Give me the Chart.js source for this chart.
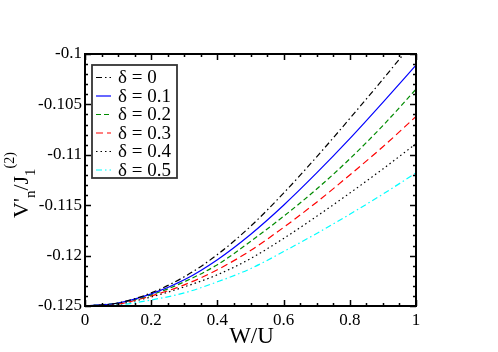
<!DOCTYPE html>
<html>
<head>
<meta charset="utf-8">
<script src="https://cdn.jsdelivr.net/npm/chart.js@4.4.0/dist/chart.umd.min.js"></script>
<style>
    html, body { margin: 0; padding: 0; background: #fff; }
    #wrap { width: 498px; height: 352px; }
</style>
</head>
<body>
<div id="wrap"><canvas id="grafico" width="498" height="352"></canvas></div>
<script>
// valores
const wOverU = [0, 0.1, 0.2, 0.3, 0.4, 0.5, 0.6, 0.7, 0.8, 0.9, 1.0];
const delta00 = [-0.1250, -0.1247, -0.1237, -0.1221, -0.1199, -0.1171, -0.1138, -0.1102, -0.1064, -0.1025, -0.0985];
const delta01 = [-0.1250, -0.1247, -0.1238, -0.1224, -0.1204, -0.1179, -0.1150, -0.1118, -0.1084, -0.1048, -0.1011];
const delta02 = [-0.1250, -0.1247, -0.1239, -0.1226, -0.1209, -0.1186, -0.1161, -0.1134, -0.1104, -0.1071, -0.1035];
const delta03 = [-0.1250, -0.1248, -0.1240, -0.1229, -0.1214, -0.1195, -0.1172, -0.1147, -0.1120, -0.1092, -0.1062];
const delta04 = [-0.1250, -0.1248, -0.1241, -0.1231, -0.1219, -0.1203, -0.1183, -0.1161, -0.1138, -0.1114, -0.1089];
const delta05 = [-0.1250, -0.1249, -0.1244, -0.1237, -0.1226, -0.1213, -0.1196, -0.1178, -0.1159, -0.1139, -0.1118];
const seriesLabels = ['δ = 0', 'δ = 0.1', 'δ = 0.2', 'δ = 0.3', 'δ = 0.4', 'δ = 0.5'];
const xTickLabels = ['0', '0.2', '0.4', '0.6', '0.8', '1'];
const yTickLabels = ['-0.125', '-0.12', '-0.115', '-0.11', '-0.105', '-0.1'];

const FONT = '"Liberation Serif", "DejaVu Serif", serif';

function pontos(vals) {
    return wOverU.map((x, i) => ({ x: x, y: vals[i] }));
}

function serie(label, vals, cor, dash) {
    return {
        label: label,
        data: pontos(vals),
        borderColor: cor,
        backgroundColor: cor,
        borderWidth: 1.2,
        borderDash: dash,
        pointRadius: 0,
        fill: false,
        cubicInterpolationMode: 'monotone'
    };
}

// moldura, marcas de escala, legenda e títulos estilo xmgrace
const molduraPlugin = {
    id: 'moldura',
    afterDatasetsDraw(chart) {
        const ctx = chart.ctx;
        const a = chart.chartArea;
        const xs = chart.scales.x;
        const ys = chart.scales.y;
        ctx.save();
        ctx.strokeStyle = '#000';
        ctx.lineWidth = 1.5;

        // marcas x
        for (let k = 0; k <= 20; k++) {
            const v = k * 0.05;
            const px = Math.round(xs.getPixelForValue(v)) + 0.5;
            const len = (k % 4 === 0) ? 6 : 3;
            ctx.beginPath();
            ctx.moveTo(px, a.bottom); ctx.lineTo(px, a.bottom - len);
            ctx.moveTo(px, a.top); ctx.lineTo(px, a.top + len);
            ctx.stroke();
        }
        // marcas y
        for (let k = 0; k <= 25; k++) {
            const v = -0.125 + k * 0.001;
            const py = Math.round(ys.getPixelForValue(v)) + 0.5;
            const len = (k % 5 === 0) ? 6 : 3;
            ctx.beginPath();
            ctx.moveTo(a.left, py); ctx.lineTo(a.left + len, py);
            ctx.moveTo(a.right, py); ctx.lineTo(a.right - len, py);
            ctx.stroke();
        }
        ctx.lineWidth = 2;
        ctx.strokeRect(a.left, a.top, a.right - a.left, a.bottom - a.top);

        // legenda
        const lx = 92, ly = 65, lw = 85, lh = 113;
        ctx.fillStyle = '#fff';
        ctx.fillRect(lx, ly, lw, lh);
        ctx.strokeStyle = '#333';
        ctx.lineWidth = 1.8;
        ctx.strokeRect(lx, ly, lw, lh);
        ctx.font = '19px ' + FONT;
        ctx.textBaseline = 'middle';
        ctx.textAlign = 'left';
        chart.data.datasets.forEach((ds, i) => {
            const cy = 77.5 + i * 18.5;
            ctx.strokeStyle = ds.borderColor;
            ctx.lineWidth = 1.2;
            ctx.setLineDash(ds.borderDash || []);
            ctx.beginPath();
            ctx.moveTo(96, cy); ctx.lineTo(111, cy);
            ctx.stroke();
            ctx.setLineDash([]);
            ctx.fillStyle = '#000';
            ctx.fillText(ds.label, 118, cy + 1);
        });

        // título do eixo x
        ctx.fillStyle = '#000';
        ctx.font = '23px ' + FONT;
        ctx.textAlign = 'center';
        ctx.textBaseline = 'alphabetic';
        ctx.fillText('W/U', (a.left + a.right) / 2 + 1, 343);

        // título do eixo y: V'_n / J_1^(2)
        const partes = [
            { t: "V'", size: 22, dy: 0 },
            { t: 'n', size: 15, dy: 7 },
            { t: '/J', size: 22, dy: 0 },
            { t: '1', size: 15, dy: 7 },
            { t: '(2)', size: 14, dy: -14 }
        ];
        let total = 0;
        partes.forEach(p => {
            ctx.font = p.size + 'px ' + FONT;
            p.w = ctx.measureText(p.t).width;
            total += p.w;
        });
        ctx.translate(28, 185);
        ctx.rotate(-Math.PI / 2);
        ctx.textAlign = 'left';
        let cx = -total / 2;
        partes.forEach(p => {
            ctx.font = p.size + 'px ' + FONT;
            ctx.fillText(p.t, cx, p.dy);
            cx += p.w;
        });
        ctx.restore();
    }
};

const ctx = document.getElementById('grafico').getContext('2d');
new Chart(ctx, {
    type: 'line',
    data: {
        datasets: [
            serie(seriesLabels[0], delta00, '#000000', [6, 3, 1.5, 3]),
            serie(seriesLabels[1], delta01, '#0000ff', []),
            serie(seriesLabels[2], delta02, '#008b00', [5, 3]),
            serie(seriesLabels[3], delta03, '#ff0000', [7, 4]),
            serie(seriesLabels[4], delta04, '#000000', [1.5, 3]),
            serie(seriesLabels[5], delta05, '#00ffff', [6, 3, 1.5, 3])
        ]
    },
    options: {
        responsive: false,
        animation: false,
        devicePixelRatio: 1,
        layout: { padding: { top: 54, right: 82, left: 0, bottom: 0 } },
        plugins: {
            legend: { display: false },
            tooltip: { enabled: false }
        },
        scales: {
            x: {
                type: 'linear',
                min: 0,
                max: 1,
                grid: { display: false, drawTicks: false },
                border: { display: false },
                ticks: {
                    stepSize: 0.2,
                    padding: 4,
                    color: '#000',
                    maxRotation: 0,
                    font: { family: FONT, size: 17 },
                    callback: (v, i) => xTickLabels[i]
                },
                afterFit: (s) => { s.height = 46; }
            },
            y: {
                type: 'linear',
                min: -0.125,
                max: -0.1,
                grid: { display: false, drawTicks: false },
                border: { display: false },
                ticks: {
                    stepSize: 0.005,
                    padding: 3,
                    color: '#000',
                    font: { family: FONT, size: 17 },
                    callback: (v, i) => yTickLabels[i]
                },
                afterFit: (s) => { s.width = 85; }
            }
        }
    },
    plugins: [molduraPlugin]
});
</script>
</body>
</html>
